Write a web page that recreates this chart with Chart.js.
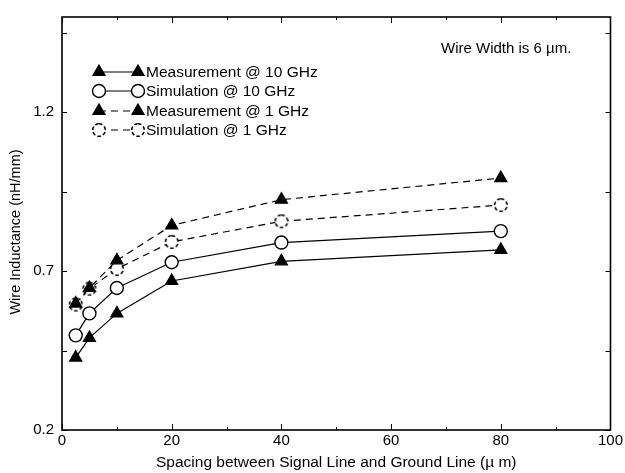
<!DOCTYPE html>
<html lang="en">
<head>
  <meta charset="UTF-8">
  <title>Wire Inductance</title>
  <script src="https://cdn.jsdelivr.net/npm/chart.js"></script>
  <style>
    body { margin: 0; background: #fff; }
    #wrap { width: 625px; height: 473px; }
  </style>
</head>
<body>
  <div id="wrap"><canvas id="chart" width="625" height="473"></canvas></div>

  <script>
    // spacing in um
    const spacing = [2.5, 5, 10, 20, 40, 80];
    const meas10 = [0.428, 0.49, 0.567, 0.669, 0.731, 0.767];
    const sim10  = [0.498, 0.567, 0.647, 0.728, 0.79, 0.826];
    const meas1  = [0.598, 0.647, 0.734, 0.844, 0.925, 0.993];
    const sim1   = [0.595, 0.645, 0.707, 0.792, 0.857, 0.908];
    const legendLabels = ['Measurement @ 10 GHz', 'Simulation @ 10 GHz', 'Measurement @ 1 GHz', 'Simulation @ 1 GHz'];
    const yTickVals = [0.2, 0.45, 0.7, 0.95, 1.2, 1.45];
    const yLabelVals = [0.2, 0.7, 1.2];
    const xTickVals = [0, 10, 20, 30, 40, 50, 60, 70, 80, 90, 100];
    const xLabelVals = [0, 20, 40, 60, 80, 100];
    const note = 'Wire Width is 6 \u00b5m.';
    const yTitle = 'Wire Inductance (nH/mm)';

    const FONT = '"Liberation Sans", Arial, sans-serif';
    const dash = [7, 5];

    // dashed open circle marker
    const dashedCircle = document.createElement('canvas');
    dashedCircle.width = 18; dashedCircle.height = 18;
    (function () {
      const c = dashedCircle.getContext('2d');
      c.fillStyle = '#fff';
      c.beginPath(); c.arc(9, 9, 6.5, 0, Math.PI * 2); c.fill();
      c.strokeStyle = '#000'; c.lineWidth = 1.6;
      c.setLineDash([3.5, 2.3]);
      c.beginPath(); c.arc(9, 9, 6.3, -Math.PI / 2, Math.PI * 1.5); c.stroke();
    })();

    const pts = arr => spacing.map((x, i) => ({ x: x, y: arr[i] }));

    const datasets = [
      { label: legendLabels[0], data: pts(meas10), pointStyle: 'triangle', pointRadius: 7,
        backgroundColor: '#000', borderColor: '#000', borderWidth: 1.2, borderDash: [] },
      { label: legendLabels[1], data: pts(sim10), pointStyle: 'circle', pointRadius: 6.5,
        backgroundColor: '#fff', borderColor: '#000', borderWidth: 1.2, pointBorderWidth: 1.4, borderDash: [] },
      { label: legendLabels[2], data: pts(meas1), pointStyle: 'triangle', pointRadius: 7,
        backgroundColor: '#000', borderColor: '#000', borderWidth: 1.2, borderDash: dash },
      { label: legendLabels[3], data: pts(sim1), pointStyle: dashedCircle,
        backgroundColor: '#fff', borderColor: '#000', borderWidth: 1.2, borderDash: dash }
    ];
    datasets.forEach(d => { d.showLine = true; d.tension = 0; d.fill = false; });

    const frame = {
      id: 'frame',
      afterDatasetsDraw(chart) {
        const { ctx, chartArea: a, scales: { x, y } } = chart;
        ctx.save();
        ctx.strokeStyle = '#000';
        ctx.lineWidth = 1;
        ctx.beginPath();
        xTickVals.forEach(v => {
          const px = Math.round(x.getPixelForValue(v)) + 0.5;
          const len = v % 20 === 0 ? 6 : 3;
          ctx.moveTo(px, a.bottom); ctx.lineTo(px, a.bottom - len);
          ctx.moveTo(px, a.top); ctx.lineTo(px, a.top + len);
        });
        yTickVals.forEach(v => {
          const py = Math.round(y.getPixelForValue(v)) + 0.5;
          ctx.moveTo(a.left, py); ctx.lineTo(a.left + 5, py);
          ctx.moveTo(a.right, py); ctx.lineTo(a.right - 5, py);
        });
        ctx.stroke();
        ctx.lineWidth = 1.6;
        ctx.strokeRect(a.left, a.top, a.right - a.left, a.bottom - a.top);

        // legend
        ctx.font = '15.5px ' + FONT;
        ctx.textBaseline = 'middle';
        ctx.fillStyle = '#000';
        const x0 = 99, x1 = 138, ty = 72, dy = 19.3;
        datasets.forEach((d, i) => {
          const yy = Math.round(ty + i * dy);
          ctx.lineWidth = 1.2;
          ctx.setLineDash(d.borderDash);
          ctx.beginPath(); ctx.moveTo(x0, yy); ctx.lineTo(x1, yy); ctx.stroke();
          ctx.setLineDash([]);
          [x0, x1].forEach(mx => {
            if (d.pointStyle === 'triangle') {
              Chart.helpers.drawPoint(ctx, { pointStyle: 'triangle', radius: 7, rotation: 0, borderWidth: 1 }, mx, yy);
              ctx.fill();
            } else if (d.pointStyle === 'circle') {
              ctx.fillStyle = '#fff'; ctx.lineWidth = 1.4;
              ctx.beginPath(); ctx.arc(mx, yy, 6.5, 0, Math.PI * 2); ctx.fill(); ctx.stroke();
              ctx.fillStyle = '#000';
            } else {
              ctx.drawImage(dashedCircle, mx - 9, yy - 9);
            }
          });
          ctx.fillText(d.label, 146, yy + 1);
        });
        ctx.font = '15px ' + FONT;
        ctx.fillText(note, 441, 49);

        // y axis title
        ctx.font = '14.5px ' + FONT;
        ctx.textAlign = 'center';
        ctx.translate(16, 232);
        ctx.rotate(-Math.PI / 2);
        ctx.fillText(yTitle, 0, 0);
        ctx.restore();
      }
    };

    new Chart(document.getElementById('chart'), {
      type: 'scatter',
      data: { datasets: datasets },
      options: {
        responsive: false,
        animation: false,
        layout: { padding: { top: 9, right: 13, left: 0, bottom: 0 } },
        plugins: { legend: { display: false }, tooltip: { enabled: false } },
        scales: {
          x: {
            type: 'linear', min: 0, max: 100,
            grid: { display: false, drawTicks: false },
            border: { display: false },
            afterBuildTicks: s => { s.ticks = xLabelVals.map(v => ({ value: v })); },
            afterFit: s => { s.height = 43; },
            ticks: { color: '#000', padding: 2, maxRotation: 0, font: { family: FONT, size: 15 } },
            title: { display: true, text: 'Spacing between Signal Line and Ground Line (\u00b5 m)', color: '#000',
                     font: { family: FONT, size: 15.5 }, padding: { top: 0, bottom: 1 } }
          },
          y: {
            type: 'linear', min: 0.2, max: 1.5,
            grid: { display: false, drawTicks: false },
            border: { display: false },
            afterBuildTicks: s => { s.ticks = yLabelVals.map(v => ({ value: v })); },
            afterFit: s => { s.width = 62; },
            ticks: { color: '#000', padding: 8, font: { family: FONT, size: 15 }, callback: v => v.toFixed(1) },
            title: { display: false }
          }
        }
      },
      plugins: [frame]
    });
  </script>
</body>
</html>
